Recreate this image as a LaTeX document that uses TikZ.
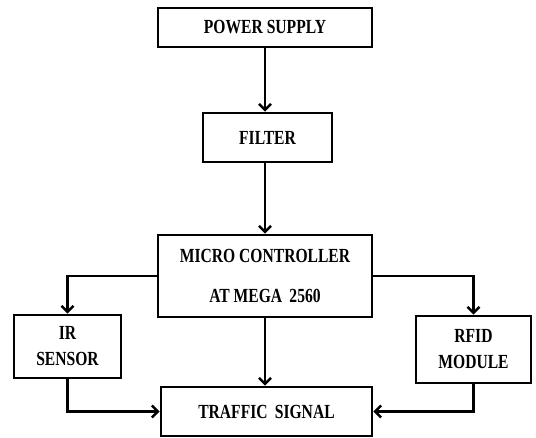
\documentclass[tikz,border=0pt]{standalone}
\usepackage{fontspec}
\setmainfont[FakeStretch=0.78]{Liberation Serif}
\usepackage{tikz}
\usetikzlibrary{arrows.meta, positioning}

\begin{document}
\begin{tikzpicture}[x=1pt, y=-1pt, line width=2.6pt,
    >={Straight Barb[length=6pt, width=12pt]},
    every node/.style={font=\fontsize{20}{24}\selectfont\bfseries, align=center},
    block/.style={draw, inner sep=0pt}]
    \useasboundingbox (0,0) rectangle (536,437);
    \node[block, minimum width=214pt, minimum height=39pt] (ps) at (265,27.5) {POWER SUPPLY};
    \node[block, minimum width=129pt, minimum height=49pt] (filt) at (267.5,137.5) {FILTER};
    \node[block, minimum width=214pt, minimum height=82pt] (mc) at (265,276) {MICRO CONTROLLER\\[16pt]AT MEGA\, 2560};
    \node[block, minimum width=107pt, minimum height=63pt] (ir) at (67.5,346.5) {IR\\[2pt]SENSOR};
    \node[block, minimum width=115pt, minimum height=67pt] (rfid) at (473.5,349.5) {RFID\\[2pt]MODULE};
    \node[block, minimum width=211pt, minimum height=49pt] (tsig) at (266.5,411.5) {TRAFFIC\, SIGNAL};
    \draw[->] (ps.south) -- (ps.south |- filt.north);
    \draw[->] (mc.north |- filt.south) -- (mc.north);
    \draw[->] (mc.west) -| (ir.north);
    \draw[->] (mc.east) -| (rfid.north);
    \draw[->] (mc.south) -- (mc.south |- tsig.north);
    \draw[->] (ir.south) |- (tsig.west);
    \draw[->] (rfid.south) |- (tsig.east);
\end{tikzpicture}
\end{document}
